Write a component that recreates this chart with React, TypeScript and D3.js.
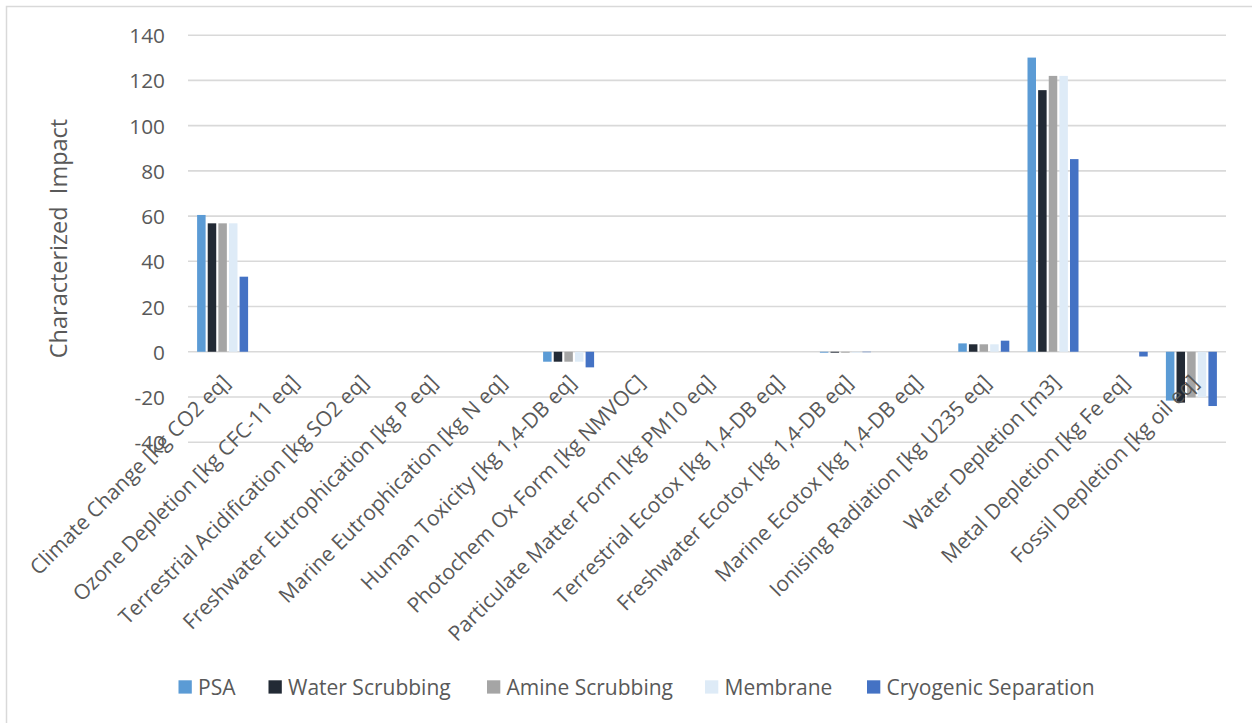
import React from "react";
import * as d3 from "d3";

// Impact categories (ReCiPe midpoint) along the x axis
const categories: string[] = [
  "Climate Change [kg CO2 eq]",
  "Ozone Depletion [kg CFC-11 eq]",
  "Terrestrial Acidification [kg SO2 eq]",
  "Freshwater Eutrophication [kg P eq]",
  "Marine Eutrophication [kg N eq]",
  "Human Toxicity [kg 1,4-DB eq]",
  "Photochem Ox Form [kg NMVOC]",
  "Particulate Matter Form [kg PM10 eq]",
  "Terrestrial Ecotox [kg 1,4-DB eq]",
  "Freshwater Ecotox [kg 1,4-DB eq]",
  "Marine Ecotox [kg 1,4-DB eq]",
  "Ionising Radiation [kg U235 eq]",
  "Water Depletion [m3]",
  "Metal Depletion [kg Fe eq]",
  "Fossil Depletion [kg oil eq]",
];

// Upgrading technologies (series)
const seriesNames: string[] = [
  "PSA",
  "Water Scrubbing",
  "Amine Scrubbing",
  "Membrane",
  "Cryogenic Separation",
];

const seriesColors: string[] = ["#5B9BD5", "#222A35", "#A5A5A5", "#DEEBF7", "#4472C4"];

// Characterized impact per category, one array per technology
const psa: number[] = [60.5, 0, 0, 0, 0, -4.4, 0, 0, 0, -0.4, 0, 3.7, 130.1, 0, -21.6];
const waterScrubbing: number[] = [56.8, 0, 0, 0, 0, -4.4, 0, 0, 0, -0.4, 0, 3.3, 115.7, 0, -22.5];
const amineScrubbing: number[] = [56.8, 0, 0, 0, 0, -4.4, 0, 0, 0, -0.4, 0, 3.3, 122.0, 0, -20.2];
const membrane: number[] = [56.8, 0, 0, 0, 0, -4.4, 0, 0, 0, -0.4, 0, 3.3, 122.0, 0, -20.1];
const cryogenic: number[] = [33.2, 0, 0, 0, 0, -6.9, 0, 0, 0, -0.2, 0, 4.9, 85.2, -2.1, -24.0];

const seriesValues: number[][] = [psa, waterScrubbing, amineScrubbing, membrane, cryogenic];

const yTicks: number[] = [-40, -20, 0, 20, 40, 60, 80, 100, 120, 140];

const W = 1252;
const H = 723;
const FONT = "'Open Sans', 'DejaVu Sans', sans-serif";
const TEXT = "#595959";

export default function App() {
  const plot = { left: 188, right: 1226, top: 35.2, bottom: 442.2 };

  const y = d3.scaleLinear().domain([-40, 140]).range([plot.bottom, plot.top]);
  const x = d3.scaleBand<string>().domain(categories).range([plot.left, plot.right]).paddingInner(0).paddingOuter(0);
  const groupWidth = x.bandwidth() * 0.737;
  const xs = d3
    .scaleBand<string>()
    .domain(seriesNames)
    .range([-groupWidth / 2, groupWidth / 2])
    .paddingInner(0.2)
    .paddingOuter(0);

  const legendX = [178.5, 268.5, 487, 705, 867];

  return (
    <div style={{ position: "absolute", left: 0, top: 0 }}>
      <svg width={W} height={H} style={{ display: "block", background: "#fff" }}>
        <rect x={6.5} y={6.5} width={W} height={H} fill="none" stroke="#d9d9d9" strokeWidth={1.5} />

        {/* horizontal gridlines */}
        {yTicks.map((t) => (
          <line
            key={"g" + t}
            x1={plot.left}
            x2={plot.right}
            y1={y(t)}
            y2={y(t)}
            stroke="#d9d9d9"
            strokeWidth={1.6}
          />
        ))}

        {/* y tick labels */}
        {yTicks.map((t) => (
          <text
            key={"t" + t}
            x={165}
            y={y(t)}
            textAnchor="end"
            dominantBaseline="central"
            fontFamily={FONT}
            fontSize={20.8}
            fill={TEXT}
          >
            {t}
          </text>
        ))}

        {/* y axis title */}
        <text
          transform={`translate(58,${238.5}) rotate(-90)`}
          textAnchor="middle"
          dominantBaseline="central"
          fontFamily={FONT}
          fontSize={23.5}
          fill={TEXT}
          style={{ whiteSpace: "pre" }}
        >
          {"Characterized  Impact"}
        </text>

        {/* bars */}
        {seriesNames.map((s, si) =>
          categories.map((c, ci) => {
            const v = seriesValues[si][ci];
            if (v === 0) return null;
            const cx = (x(c) as number) + x.bandwidth() / 2;
            const y0 = y(0);
            const y1 = y(v);
            return (
              <rect
                key={s + c}
                x={cx + (xs(s) as number)}
                y={Math.min(y0, y1)}
                width={xs.bandwidth()}
                height={Math.abs(y1 - y0)}
                fill={seriesColors[si]}
              />
            );
          })
        )}

        {/* category labels */}
        {categories.map((c) => {
          const cx = (x(c) as number) + x.bandwidth() / 2;
          return (
            <text
              key={"l" + c}
              transform={`translate(${cx + 3},${378}) rotate(-45)`}
              textAnchor="end"
              dominantBaseline="central"
              fontFamily={FONT}
              fontSize={21}
              fill={TEXT}
            >
              {c}
            </text>
          );
        })}

        {/* legend */}
        {seriesNames.map((s, i) => (
          <g key={"lg" + s} transform={`translate(${legendX[i]},${687})`}>
            <rect x={0} y={-6.7} width={13.3} height={13.3} fill={seriesColors[i]} />
            <text
              x={19.5}
              y={0}
              dominantBaseline="central"
              fontFamily={FONT}
              fontSize={21}
              fill={TEXT}
            >
              {s}
            </text>
          </g>
        ))}
      </svg>
    </div>
  );
}
